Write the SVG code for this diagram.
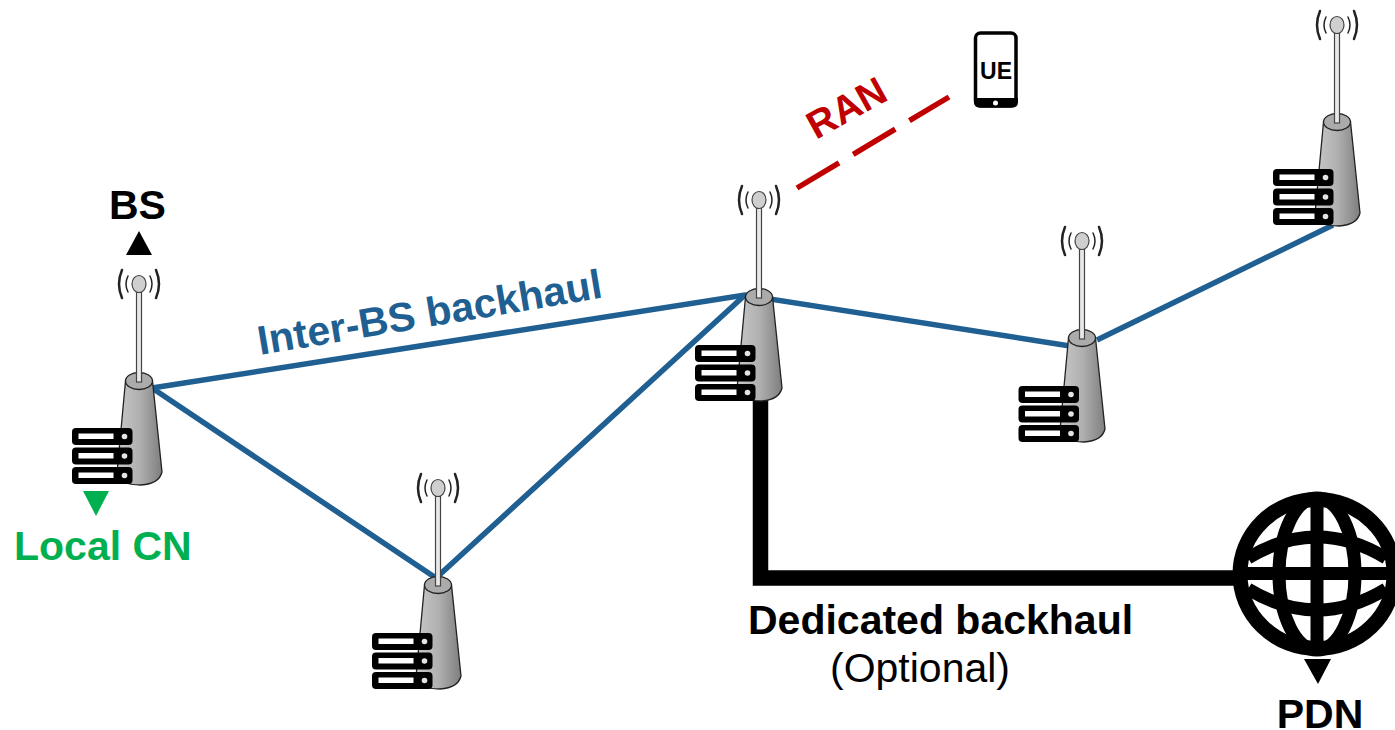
<svg xmlns="http://www.w3.org/2000/svg" width="1395" height="730" viewBox="0 0 1395 730">
<style>
text{font-family:"Liberation Sans",Arial,sans-serif;font-size:41px}
.b{font-weight:bold}
.link{fill:none;stroke:#1F5F92;stroke-width:5.500}
.wave{fill:none;stroke:#222;stroke-linecap:round}
</style>
<defs>
<linearGradient id="tg" x1="0" x2="1" y1="0" y2="0"><stop offset="0" stop-color="#C8C8C8"/><stop offset="0.5" stop-color="#B0B0B0"/><stop offset="1" stop-color="#7E7E7E"/></linearGradient>
<g id="tower">
<path class="wave" stroke-width="1.500" d="M-11-8Q-15 0-11 8"/>
<path class="wave" stroke-width="1.500" d="M11-8Q15 0 11 8"/>
<path class="wave" stroke-width="2.500" d="M-17-14Q-23 0-17 14"/>
<path class="wave" stroke-width="2.500" d="M17-14Q23 0 17 14"/>
<path d="M-13.500 97L-22 189Q-20 201 2 201Q20 200 23 188L13.500 97Z" fill="url(#tg)" stroke="#222" stroke-width="1.300"/>
<ellipse cx="0" cy="97" rx="13.500" ry="8.500" fill="#ABABAB" stroke="#222" stroke-width="1.300"/>
<rect x="-2.500" y="8" width="5" height="90" fill="#E8E8E8" stroke="#444" stroke-width="1.200"/>
<ellipse cx="0" cy="0" rx="7" ry="8.500" fill="#CFCFCF" stroke="#444" stroke-width="1.200"/>
</g>
<g id="server">
<rect x="0" y="0" width="60.500" height="17" rx="4" fill="#000"/><rect x="6.500" y="5.500" width="35" height="5.500" fill="#fff"/><circle cx="52.500" cy="8.500" r="2.800" fill="#e4e4e4"/>
<rect x="0" y="19.500" width="60.500" height="17" rx="4" fill="#000"/><rect x="6.500" y="25" width="35" height="5.500" fill="#fff"/><circle cx="52.500" cy="28" r="2.800" fill="#e4e4e4"/>
<rect x="0" y="39" width="60.500" height="17" rx="4" fill="#000"/><rect x="6.500" y="44.500" width="35" height="5.500" fill="#fff"/><circle cx="52.500" cy="47.500" r="2.800" fill="#e4e4e4"/>
</g>
</defs>
<g id="connectors">
<path class="link" d="M152 388L745 295L1070 346"/>
<path class="link" d="M152 388L436 578L745 295"/>
<path class="link" d="M1097 340L1333 225"/>
<path d="M760.500 398V578H1240" fill="none" stroke="#000" stroke-width="15.500"/>
<path d="M797 188L949 97" fill="none" stroke="#C00000" stroke-width="5.500" stroke-dasharray="49 16.500"/>
</g>
<g id="bs1"><use href="#tower" x="139" y="284"/><use href="#server" x="72" y="428"/></g>
<g id="bs2"><use href="#tower" x="438" y="488"/><use href="#server" x="372" y="633"/></g>
<g id="bs3"><use href="#tower" x="759" y="200"/><use href="#server" x="695" y="345"/></g>
<g id="bs4"><use href="#tower" x="1082" y="241"/><use href="#server" x="1018.500" y="386"/></g>
<g id="bs5"><use href="#tower" x="1337" y="25"/><use href="#server" x="1273" y="169"/></g>
<g id="ue">
<rect x="975.500" y="33" width="40.500" height="73" rx="5" fill="#fff" stroke="#000" stroke-width="3.500"/>
<path d="M974 98H1018V102Q1018 107.500 1012 107.500H980Q974 107.500 974 102Z" fill="#000"/>
<circle cx="995.500" cy="103" r="2.500" fill="#fff"/>
<text class="b" x="996" y="79" text-anchor="middle" style="font-size:23px">UE</text>
</g>
<g id="pdn" fill="none" stroke="#000" stroke-width="13">
<ellipse cx="1317" cy="574" rx="77" ry="74.500" stroke-width="15"/>
<ellipse cx="1317" cy="574" rx="38" ry="76"/>
<path d="M1317 500V648M1240 573.500H1394"/>
<path d="M1248 558Q1317 516 1386 558"/>
<path d="M1248 589Q1317 631 1386 589"/>
</g>
<path id="pdn-arrow" d="M1304 659H1331L1318 684Z" fill="#000"/>
<path id="bs-arrow" d="M139 231L152 255H126Z" fill="#000"/>
<path id="cn-arrow" d="M83 491H109L96 516Z" fill="#00B050"/>
<g id="labels">
<text class="b" x="137.500" y="219" text-anchor="middle">BS</text>
<text class="b" x="14" y="560" fill="#00B050">Local CN</text>
<text class="b" transform="translate(260 355) rotate(-9.500)" fill="#1F5F92">Inter-BS backhaul</text>
<text class="b" transform="translate(816 140) rotate(-29)" fill="#C00000" style="font-size:39px">RAN</text>
<text class="b" x="748" y="634">Dedicated backhaul</text>
<text x="830" y="682">(Optional)</text>
<text class="b" x="1320" y="728" text-anchor="middle">PDN</text>
</g>
</svg>
